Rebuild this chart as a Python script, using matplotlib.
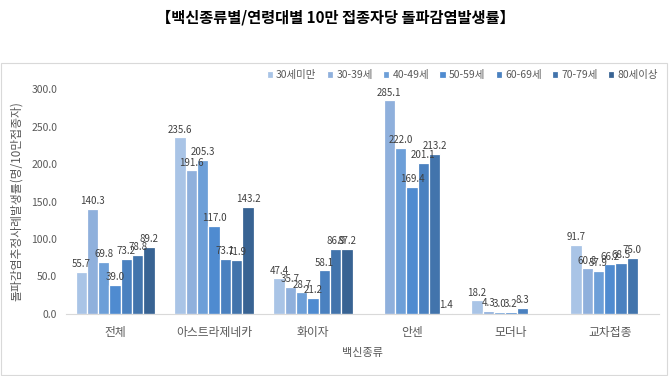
import numpy as np
import matplotlib
matplotlib.use("Agg")
import matplotlib.pyplot as plt
from matplotlib.patches import Rectangle

plt.rcParams['font.family'] = ['Noto Sans CJK KR', 'DejaVu Sans']

# data (None = no bar)
vaccines = ['전체', '아스트라제네카', '화이자', '안센', '모더나', '교차접종']
age_groups = ['30세미만', '30-39세', '40-49세', '50-59세', '60-69세', '70-79세', '80세이상']
rate_under30 = [55.7, 235.6, 47.4, None, 18.2, 91.7]
rate_30s = [140.3, 191.6, 35.7, 285.1, 4.3, 60.8]
rate_40s = [69.8, 205.3, 28.7, 222.0, 3.0, 57.9]
rate_50s = [39.0, 117.0, 21.2, 169.4, 3.2, 66.2]
rate_60s = [73.2, 73.1, 58.1, 201.1, 8.3, 68.5]
rate_70s = [78.8, 71.9, 86.9, 213.2, None, 75.0]
rate_80plus = [89.2, 143.2, 87.2, 1.4, None, None]

series = [rate_under30, rate_30s, rate_40s, rate_50s, rate_60s, rate_70s, rate_80plus]
colors = ['#a9c4e6', '#8fb0dc', '#6d9fd8', '#4f8bd0', '#4a81c0', '#4274ac', '#386393']

fig = plt.figure(figsize=(6.7, 3.76), dpi=100)
ax = fig.add_axes([0.098, 0.165, 0.886, 0.598])

# light frame around chart area
fig.patches.append(Rectangle((0.002, 0.003), 0.994, 0.83, transform=fig.transFigure,
                             fill=False, edgecolor='#d9d9d9', linewidth=0.8))

x = np.arange(len(vaccines))
slot = 0.8 / len(age_groups)
for i, (vals, name, c) in enumerate(zip(series, age_groups, colors)):
    pos = x - 0.4 + slot * (i + 0.5)
    idx = [k for k, v in enumerate(vals) if v is not None]
    hs = [vals[k] for k in idx]
    bars = ax.bar(pos[idx], hs, width=slot, color=c, edgecolor='white',
                  linewidth=0.9, label=name)
    ax.bar_label(bars, labels=[f'{v:.1f}' for v in hs], padding=2,
                 fontsize=7, color='#404040')

ax.set_ylim(0, 300)
ax.set_xlim(-0.5, len(vaccines) - 0.5)
ax.set_yticks(np.arange(0, 301, 50))
ax.set_yticklabels([f'{v:.1f}' for v in np.arange(0, 301, 50)], fontsize=7.5, color='#595959')
ax.set_xticks(x)
ax.set_xticklabels(vaccines, fontsize=8.5, color='#595959')
ax.tick_params(axis='both', length=0)
ax.tick_params(axis='x', pad=9)
ax.tick_params(axis='y', pad=6)
for s in ['top', 'right', 'left']:
    ax.spines[s].set_visible(False)
ax.spines['bottom'].set_color('#d9d9d9')

ax.set_xlabel('백신종류', fontsize=8, color='#595959', labelpad=6)
ax.set_ylabel('돌파감염추정사례발생률(명/10만접종자)', fontsize=8.5, color='#595959', labelpad=6)

fig.text(0.5, 0.953, '【백신종류별/연령대별 10만 접종자당 돌파감염발생률】',
         ha='center', va='center', fontsize=11, fontweight='bold', color='#000000')

ax.legend(loc='lower right', bbox_to_anchor=(1.005, 1.02), ncol=7, frameon=False,
          fontsize=7.5, handlelength=0.6, handleheight=0.6, handletextpad=0.3,
          columnspacing=1.0, labelcolor='#595959', borderaxespad=0)

fig.savefig('out.png', dpi=100)
